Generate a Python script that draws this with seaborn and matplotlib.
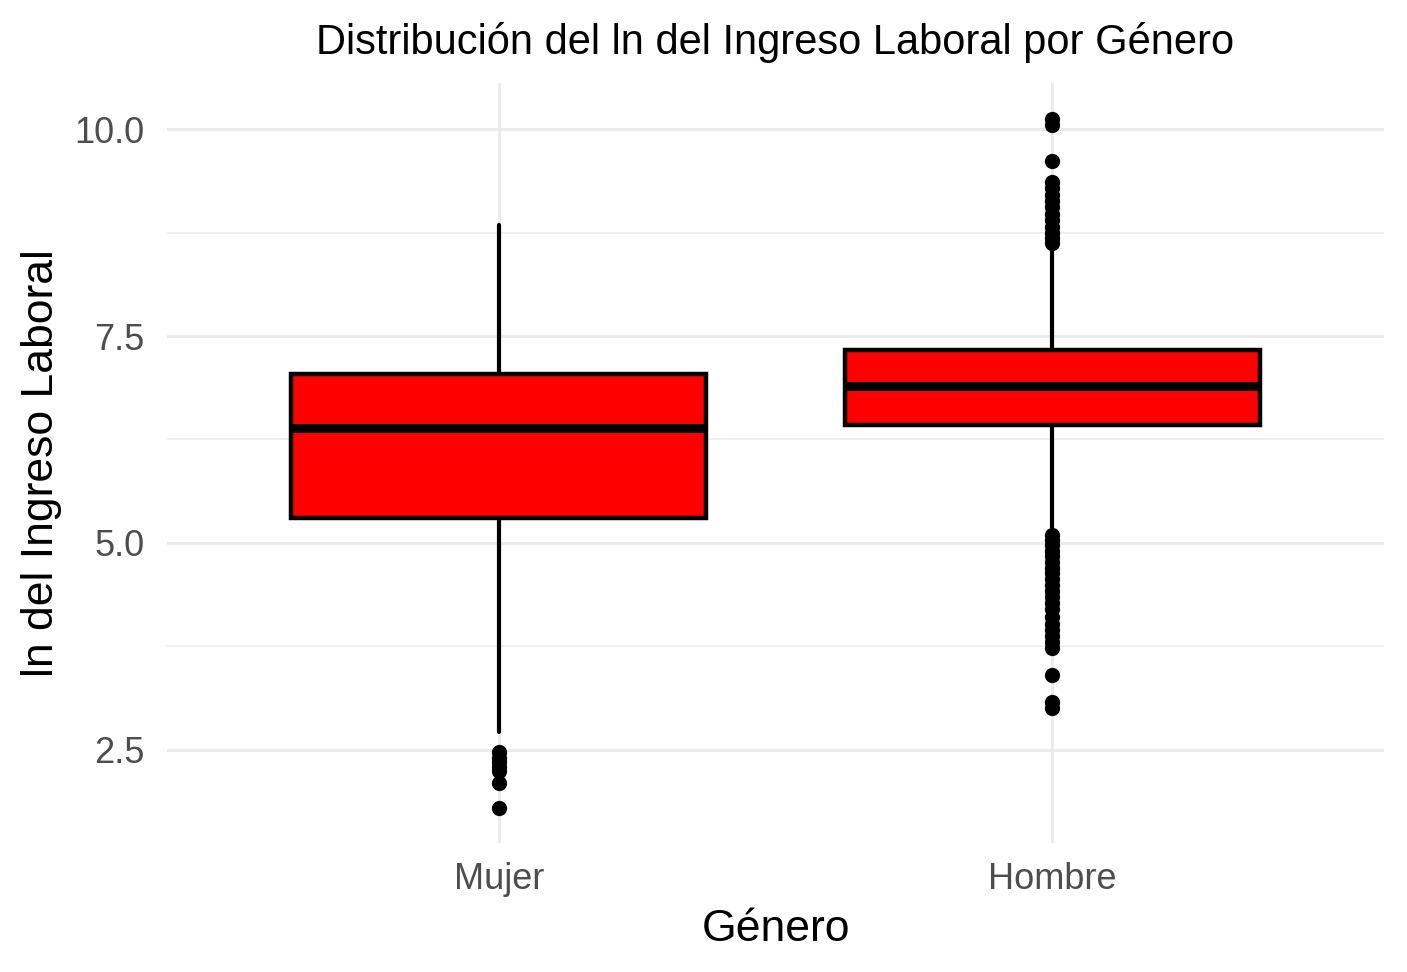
import pandas as pd
import matplotlib
matplotlib.use("Agg")
import matplotlib.pyplot as plt
import seaborn as sns

# resumen de cajas
generos = ["Mujer", "Hombre"]
q1 = [5.30, 6.43]
mediana = [6.39, 6.90]
q3 = [7.04, 7.33]
bigote_inf = [2.71, 5.18]
bigote_sup = [8.84, 8.57]

atipicos_mujer = [2.47, 2.40, 2.35, 2.29, 2.24, 2.09, 1.79]
atipicos_hombre = [10.13, 10.05, 9.62, 9.36, 9.29, 9.21, 9.13, 9.06, 8.98, 8.90,
                   8.82, 8.75, 8.68, 8.63,
                   5.09, 5.03, 4.97, 4.90, 4.84, 4.77, 4.70, 4.63, 4.56, 4.49,
                   4.42, 4.35, 4.27, 4.20, 4.10, 4.02, 3.94, 3.87, 3.80, 3.73,
                   3.40, 3.07, 3.00]

sns.set_theme(style="whitegrid")
plt.rcParams["font.family"] = ["Liberation Sans", "DejaVu Sans"]

fig, ax = plt.subplots(figsize=(14.07, 9.72), dpi=100)
fig.subplots_adjust(left=0.1187, right=0.9837, top=0.9146, bottom=0.1327)

df_out = pd.DataFrame({
    "genero": ["Mujer"] * len(atipicos_mujer) + ["Hombre"] * len(atipicos_hombre),
    "valor": atipicos_mujer + atipicos_hombre,
})
sns.stripplot(data=df_out, x="genero", y="valor", order=generos, jitter=False,
              color="black", size=11, linewidth=0, ax=ax, zorder=5)

stats = []
for i, g in enumerate(generos):
    stats.append(dict(label=g, q1=q1[i], med=mediana[i], q3=q3[i],
                      whislo=bigote_inf[i], whishi=bigote_sup[i], fliers=[]))
ax.bxp(stats, positions=[0, 1], widths=0.75, patch_artist=True,
       showfliers=False, showcaps=False, manage_ticks=False,
       boxprops=dict(facecolor="#FF0000", edgecolor="black", linewidth=3.2),
       medianprops=dict(color="black", linewidth=6.5, solid_capstyle="butt"),
       whiskerprops=dict(color="black", linewidth=3.0), zorder=3)

ax.set_xlim(-0.6, 1.6)
ax.set_ylim(1.37, 10.56)
ax.set_yticks([2.5, 5.0, 7.5, 10.0])
ax.set_yticklabels(["2.5", "5.0", "7.5", "10.0"])
ax.set_yticks([3.75, 6.25, 8.75], minor=True)
ax.set_xticks([0, 1])
ax.set_xticklabels(generos)

ax.set_facecolor("white")
for s in ax.spines.values():
    s.set_visible(False)
ax.grid(True, which="major", color="#EBEBEB", linewidth=2.2)
ax.grid(True, which="minor", axis="y", color="#EBEBEB", linewidth=1.1)
ax.set_axisbelow(True)
ax.tick_params(axis="both", which="both", length=0, labelsize=26, labelcolor="#4D4D4D")
ax.tick_params(axis="x", pad=14)
ax.tick_params(axis="y", pad=16)

ax.set_title("Distribución del ln del Ingreso Laboral por Género", fontsize=30,
             pad=21, color="black")
ax.set_xlabel("Género", fontsize=32, labelpad=8, color="black")
ax.set_ylabel("ln del Ingreso Laboral", fontsize=32, labelpad=9, color="black")

fig.savefig("out.png", dpi=100)
plt.close(fig)
